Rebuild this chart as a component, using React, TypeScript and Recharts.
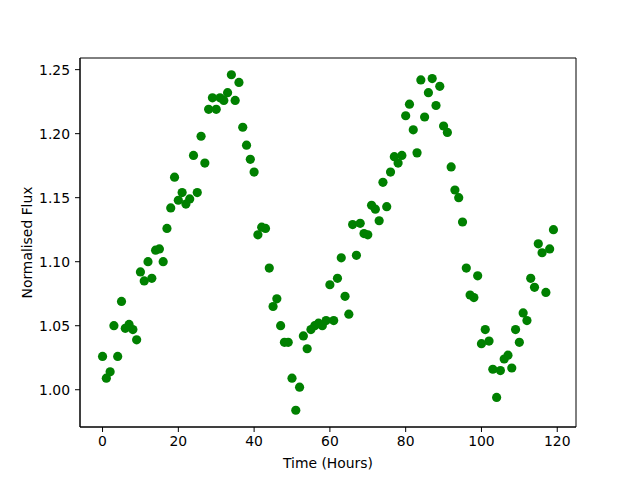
import React from 'react';
import { ScatterChart, Scatter, XAxis, YAxis, ReferenceArea } from 'recharts';

const hours = [
  0, 1, 2, 3, 4, 5, 6, 7, 8, 9, 10, 11, 12, 13, 14, 15, 16, 17, 18, 19,
  20, 21, 22, 23, 24, 25, 26, 27, 28, 29, 30, 31, 32, 33, 34, 35, 36, 37, 38, 39,
  40, 41, 42, 43, 44, 45, 46, 47, 48, 49, 50, 51, 52, 53, 54, 55, 56, 57, 58, 59,
  60, 61, 62, 63, 64, 65, 66, 67, 68, 69, 70, 71, 72, 73, 74, 75, 76, 77, 78, 79,
  80, 81, 82, 83, 84, 85, 86, 87, 88, 89, 90, 91, 92, 93, 94, 95, 96, 97, 98, 99,
  100, 101, 102, 103, 104, 105, 106, 107, 108, 109, 110, 111, 112, 113, 114, 115, 116, 117, 118, 119,
];

const flux = [
  1.026, 1.009, 1.014, 1.05, 1.026, 1.069, 1.048, 1.051, 1.047, 1.039,
  1.092, 1.085, 1.1, 1.087, 1.109, 1.11, 1.1, 1.126, 1.142, 1.166,
  1.148, 1.154, 1.145, 1.149, 1.183, 1.154, 1.198, 1.177, 1.219, 1.228,
  1.219, 1.228, 1.226, 1.232, 1.246, 1.226, 1.24, 1.205, 1.191, 1.18,
  1.17, 1.121, 1.127, 1.126, 1.095, 1.065, 1.071, 1.05, 1.037, 1.037,
  1.009, 0.984, 1.002, 1.042, 1.032, 1.047, 1.05, 1.052, 1.05, 1.054,
  1.082, 1.054, 1.087, 1.103, 1.073, 1.059, 1.129, 1.105, 1.13, 1.122,
  1.121, 1.144, 1.141, 1.132, 1.162, 1.143, 1.17, 1.182, 1.177, 1.183,
  1.214, 1.223, 1.203, 1.185, 1.242, 1.213, 1.232, 1.243, 1.222, 1.237,
  1.206, 1.201, 1.174, 1.156, 1.15, 1.131, 1.095, 1.074, 1.072, 1.089,
  1.036, 1.047, 1.038, 1.016, 0.994, 1.015, 1.024, 1.027, 1.017, 1.047,
  1.037, 1.06, 1.054, 1.087, 1.08, 1.114, 1.107, 1.076, 1.11, 1.125,
];

const xTicks = [0, 20, 40, 60, 80, 100, 120];
const yTicks = [1.0, 1.05, 1.1, 1.15, 1.2, 1.25];

const data = hours.map((h, i) => ({ time: h, flux: flux[i] }));

// matplotlib style 5% margins around the data
const xMin = Math.min(...hours);
const xMax = Math.max(...hours);
const yMin = Math.min(...flux);
const yMax = Math.max(...flux);
const xPad = (xMax - xMin) * 0.05;
const yPad = (yMax - yMin) * 0.05;
const xDomain: [number, number] = [xMin - xPad, xMax + xPad];
const yDomain: [number, number] = [yMin - yPad, yMax + yPad];

const font = 'DejaVu Sans, sans-serif';
const tickStyle = { fill: '#000', fontSize: 13.9, fontFamily: font };

const Dot = (props: any) => {
  const { cx, cy } = props;
  return <circle cx={cx} cy={cy} r={4.6} fill="#008000" />;
};

export default function App() {
  return (
    <div style={{ position: 'absolute', left: 0, top: 0, width: 640, height: 480, background: '#fff' }}>
      <ScatterChart width={640} height={480} margin={{ top: 58, right: 64, bottom: 0, left: 0 }}>
        <XAxis
          type="number"
          dataKey="time"
          domain={xDomain}
          ticks={xTicks}
          allowDataOverflow
          height={53}
          stroke="#000"
          tickSize={5}
          tickMargin={4}
          tick={tickStyle}
          label={{
            value: 'Time (Hours)',
            position: 'insideBottom',
            offset: 12,
            style: { fill: '#000', fontSize: 13.9, fontFamily: font },
          }}
        />
        <YAxis
          type="number"
          dataKey="flux"
          domain={yDomain}
          ticks={yTicks}
          allowDataOverflow
          width={80}
          stroke="#000"
          tickSize={5}
          tickMargin={5}
          tick={tickStyle}
          tickFormatter={(v: number) => v.toFixed(2)}
          label={{
            value: 'Normalised Flux',
            angle: -90,
            position: 'insideLeft',
            offset: 27,
            style: { fill: '#000', fontSize: 13.9, fontFamily: font, textAnchor: 'middle' },
          }}
        />
        <ReferenceArea
          x1={xDomain[0]}
          x2={xDomain[1]}
          y1={yDomain[0]}
          y2={yDomain[1]}
          fill="none"
          stroke="#000"
          strokeWidth={1}
          ifOverflow="visible"
        />
        <Scatter data={data} shape={<Dot />} isAnimationActive={false} />
      </ScatterChart>
    </div>
  );
}
